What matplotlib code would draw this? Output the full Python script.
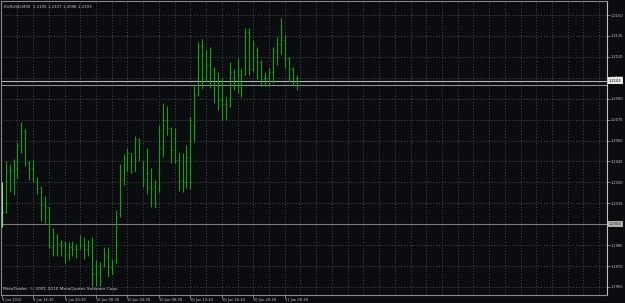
import matplotlib
matplotlib.use("Agg")
from matplotlib import pyplot as plt
import matplotlib.transforms as mtransforms

# EURUSD M30 bars, 9 Jun 12:30 .. 11 Jun 02:00
opens = [1.2007, 1.2009, 1.2038, 1.2039, 1.2040, 1.2057, 1.2067, 1.2044, 1.2040, 1.2030,
         1.2027, 1.2014, 1.2012, 1.1984, 1.1991, 1.1986, 1.1986, 1.1979, 1.1984, 1.1982,
         1.1982, 1.1985, 1.1982, 1.1981, 1.1964, 1.1965, 1.1970, 1.1977, 1.1969, 1.1974,
         1.2007, 1.2032, 1.2047, 1.2051, 1.2038, 1.2061, 1.2041, 1.2037, 1.2027, 1.2027,
         1.2025, 1.2055, 1.2075, 1.2069, 1.2053, 1.2046, 1.2032, 1.2030, 1.2048, 1.2071,
         1.2093, 1.2128, 1.2104, 1.2114, 1.2111, 1.2100, 1.2089, 1.2086, 1.2085, 1.2109,
         1.2100, 1.2111, 1.2108, 1.2138, 1.2111, 1.2125, 1.2116, 1.2104, 1.2105, 1.2109,
         1.2124, 1.2129, 1.2132, 1.2119, 1.2111, 1.2105]
highs = [1.2030, 1.2045, 1.2043, 1.2047, 1.2059, 1.2073, 1.2068, 1.2045, 1.2046, 1.2034,
         1.2027, 1.2020, 1.2012, 1.1997, 1.1993, 1.1989, 1.1988, 1.1987, 1.1988, 1.1986,
         1.1992, 1.1991, 1.1989, 1.1991, 1.1974, 1.1973, 1.1984, 1.1984, 1.1975, 1.2010,
         1.2043, 1.2050, 1.2055, 1.2051, 1.2063, 1.2062, 1.2045, 1.2055, 1.2040, 1.2032,
         1.2071, 1.2087, 1.2085, 1.2070, 1.2069, 1.2052, 1.2051, 1.2057, 1.2077, 1.2099,
         1.2131, 1.2133, 1.2125, 1.2127, 1.2113, 1.2109, 1.2105, 1.2091, 1.2116, 1.2111,
         1.2119, 1.2111, 1.2141, 1.2141, 1.2132, 1.2127, 1.2118, 1.2109, 1.2112, 1.2127,
         1.2134, 1.2148, 1.2136, 1.2120, 1.2113, 1.2107]
lows = [1.1998, 1.2008, 1.2023, 1.2021, 1.2033, 1.2051, 1.2042, 1.2032, 1.2030, 1.2022,
        1.2002, 1.2001, 1.1983, 1.1977, 1.1977, 1.1977, 1.1972, 1.1974, 1.1977, 1.1976,
        1.1982, 1.1975, 1.1977, 1.1956, 1.1956, 1.1956, 1.1969, 1.1962, 1.1964, 1.1972,
        1.2005, 1.2028, 1.2038, 1.2037, 1.2038, 1.2045, 1.2027, 1.2022, 1.2012, 1.2012,
        1.2023, 1.2048, 1.2064, 1.2044, 1.2044, 1.2024, 1.2023, 1.2026, 1.2025, 1.2059,
        1.2092, 1.2097, 1.2102, 1.2098, 1.2087, 1.2082, 1.2075, 1.2075, 1.2084, 1.2096,
        1.2094, 1.2091, 1.2107, 1.2107, 1.2109, 1.2104, 1.2099, 1.2099, 1.2099, 1.2101,
        1.2114, 1.2122, 1.2112, 1.2102, 1.2100, 1.2096]
closes = [1.2009, 1.2038, 1.2039, 1.2039, 1.2057, 1.2067, 1.2044, 1.2040, 1.2030, 1.2026,
          1.2014, 1.2012, 1.1984, 1.1991, 1.1986, 1.1987, 1.1979, 1.1984, 1.1982, 1.1982,
          1.1985, 1.1982, 1.1987, 1.1964, 1.1965, 1.1959, 1.1978, 1.1969, 1.1965, 1.2005,
          1.2033, 1.2047, 1.2051, 1.2038, 1.2061, 1.2058, 1.2032, 1.2027, 1.2025, 1.2012,
          1.2055, 1.2075, 1.2069, 1.2053, 1.2046, 1.2032, 1.2030, 1.2048, 1.2071, 1.2093,
          1.2128, 1.2104, 1.2114, 1.2111, 1.2100, 1.2089, 1.2086, 1.2083, 1.2109, 1.2100,
          1.2112, 1.2095, 1.2138, 1.2111, 1.2129, 1.2116, 1.2104, 1.2105, 1.2109, 1.2124,
          1.2129, 1.2132, 1.2119, 1.2111, 1.2105, 1.2103]

time_labels = ["9 Jun 2010", "9 Jun 16:30", "9 Jun 20:30", "10 Jun 00:30", "10 Jun 04:30",
               "10 Jun 08:30", "10 Jun 12:30", "10 Jun 16:30", "10 Jun 20:30", "11 Jun 00:30"]
price_ticks = [1.2150, 1.2135, 1.2120, 1.2105, 1.2090, 1.2075, 1.2060, 1.2045,
               1.2030, 1.2015, 1.2000, 1.1985, 1.1970, 1.1955]
bid = 1.2103
ask_line = 1.2100
hline_level = 1.2000

bg = "#0b0c0f"
grid_col = "#4a4c50"
bar_col = "#149e14"
txt_col = "#c8c8c8"
fs = 2.6

fig = plt.figure(figsize=(6.25, 3.03), dpi=100, facecolor=bg)
ax = fig.add_axes([0.0016, 0.028, 0.9691, 0.968])
ax.set_facecolor(bg)

n = len(closes)
xs = list(range(n))
ax.set_xlim(-0.18, 153.9)
ax.set_ylim(1.19496, 1.21599)

# grid
for p in price_ticks:
    ax.axhline(p, color=grid_col, lw=0.7, ls=(0, (1, 2)), zorder=1)
for gx in range(4, 154, 4):
    ax.axvline(gx, color=grid_col, lw=0.7, ls=(0, (1, 2)), zorder=1)

# horizontal lines
ax.axhline(hline_level, color="#7c7c7c", lw=0.8, zorder=2)
ax.axhline(bid, color="#b4b4b4", lw=0.8, zorder=2)
ax.axhline(ask_line, color="#8c8c8c", lw=0.8, zorder=2)

# OHLC bars
cols = ["#8ee28e"] + [bar_col] * (n - 1)
ax.vlines(xs, lows, highs, colors=cols, lw=0.8, zorder=3)
ax.hlines(opens, [x - 0.25 for x in xs], xs, colors=cols, lw=0.8, zorder=3)
ax.hlines(closes, xs, [x + 0.25 for x in xs], colors=cols, lw=0.8, zorder=3)

# axes / ticks
for s in ax.spines.values():
    s.set_color("#8a8a8a")
    s.set_linewidth(0.8)
ax.spines["right"].set_color("#c0c0c0")

ax.yaxis.tick_right()
ax.set_yticks(price_ticks)
ax.set_yticklabels([f"{p:.4f}" for p in price_ticks])
ax.tick_params(axis="y", colors="#8a8a8a", labelcolor=txt_col, length=2, width=0.6,
               pad=1.2, labelsize=fs)
ax.set_xticks(list(range(0, 73, 8)))
ax.set_xticklabels(time_labels, ha="left")
ax.tick_params(axis="x", colors="#8a8a8a", labelcolor=txt_col, length=2, width=0.6,
               pad=0.8, labelsize=fs)

# price markers on the scale
trans = mtransforms.blended_transform_factory(ax.transAxes, ax.transData)
ax.text(1.004, bid, f"{bid:.4f}", transform=trans, fontsize=fs, color="#101010",
        va="center", ha="left", zorder=5, clip_on=False,
        bbox=dict(boxstyle="square,pad=0.3", fc="#e6e6e6", ec="none"))
ax.text(1.004, hline_level, f"{hline_level:.4f}", transform=trans, fontsize=fs,
        color="#303030", va="center", ha="left", zorder=5, clip_on=False,
        bbox=dict(boxstyle="square,pad=0.3", fc="#b0b0b0", ec="none"))

ax.text(0.005, 0.988, "EURUSD,M30  1.2105 1.2107 1.2096 1.2103", transform=ax.transAxes,
        fontsize=2.9, color=txt_col, va="top", ha="left")
ax.text(0.004, 0.012, "MetaTrader, \u00a9 2001-2010 MetaQuotes Software Corp.",
        transform=ax.transAxes, fontsize=3.1, color=txt_col, va="bottom", ha="left")

fig.savefig("out.png", dpi=100, facecolor=bg)
